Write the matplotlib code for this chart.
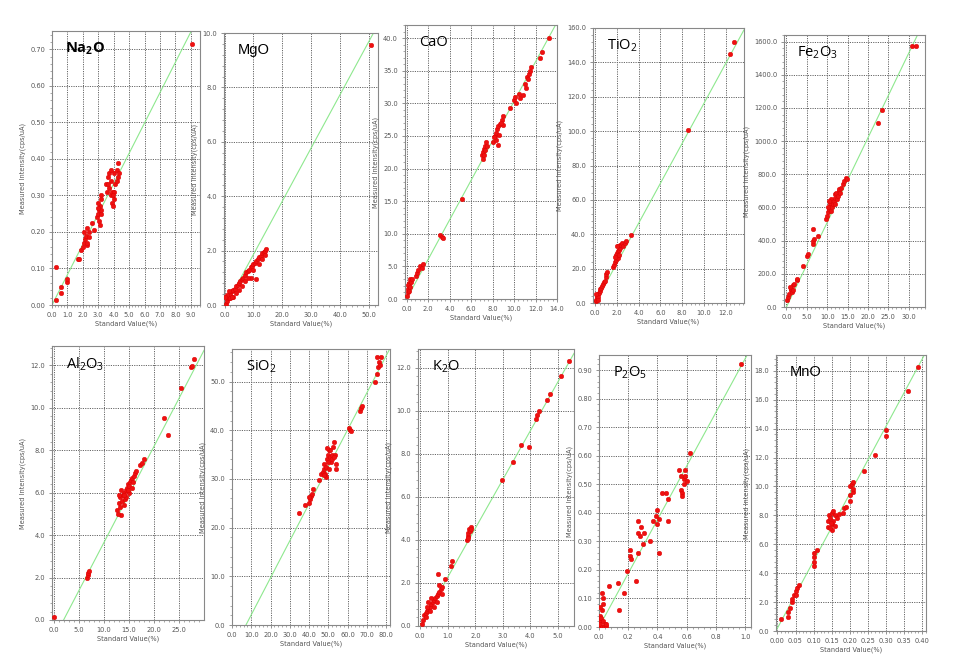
import matplotlib
matplotlib.use("Agg")
import matplotlib.pyplot as plt
from matplotlib.ticker import MultipleLocator, AutoMinorLocator, FormatStrFormatter

plt.rcParams['mathtext.default'] = 'regular'

# values (standard %, measured cps/uA)
na2o_x = [0.28, 0.25, 0.57, 0.6, 0.96, 1.0, 1.67, 1.75, 1.85, 2.0, 2.1, 2.15, 2.2, 2.3, 2.4, 2.25, 2.4, 2.05, 2.3,
          2.74, 2.6, 2.95, 3.0, 3.05, 3.1, 3.0, 3.15, 3.2, 3.05, 3.1, 3.2, 3.15, 3.0,
          3.5, 3.6, 3.7, 3.8, 3.9, 3.95, 4.0, 3.85, 4.0, 4.1, 4.2, 4.3, 4.25, 4.35, 3.7, 3.6, 3.9, 4.05,
          3.95, 4.2, 3.55, 3.8, 9.1]
na2o_y = [0.014, 0.105, 0.032, 0.05, 0.064, 0.07, 0.127, 0.125, 0.15, 0.16, 0.17, 0.18, 0.19, 0.21, 0.2, 0.165,
          0.185, 0.2, 0.17, 0.206, 0.225, 0.24, 0.25, 0.26, 0.27, 0.28, 0.29, 0.26, 0.23, 0.22, 0.3, 0.25, 0.265,
          0.33, 0.35, 0.32, 0.3, 0.28, 0.27, 0.29, 0.34, 0.36, 0.33, 0.37, 0.39, 0.35, 0.36, 0.36, 0.33, 0.31,
          0.31, 0.3, 0.34, 0.31, 0.37, 0.715]

mgo_x = [0.5, 0.8, 1, 1.5, 2, 2.5, 3, 3.5, 4, 4.5, 5, 5.5, 6, 6.5, 7, 7.5, 8, 8.5, 9, 9.5, 10, 10.5, 11, 11.5,
         12, 12.5, 13, 13.5, 14, 14.5, 11, 9, 6, 3, 1, 2, 12, 13, 14, 10, 8, 7, 5, 4, 0.3, 1.5, 2.5, 50.7]
mgo_y = [0.05, 0.15, 0.3, 0.25, 0.4, 0.5, 0.55, 0.6, 0.7, 0.75, 0.8, 0.9, 0.95, 1.0, 1.1, 1.2, 1.25, 1.3, 1.4,
         1.45, 1.5, 1.55, 1.6, 1.7, 1.75, 1.8, 1.9, 1.95, 2.0, 2.05, 0.95, 1.0, 0.7, 0.3, 0.35, 0.25, 1.5, 1.7,
         1.85, 1.3, 1.0, 0.9, 0.55, 0.45, 0.3, 0.5, 0.3, 9.57]

cao_x = [0.05, 0.1, 0.15, 0.2, 0.25, 0.3, 0.1, 0.35, 0.4, 0.5, 0.2, 0.9, 1.0, 1.1, 1.2, 1.4, 1.5, 3.1, 3.3, 3.4,
         5.15, 7.0, 7.1, 7.2, 7.3, 7.2, 7.4, 7.1, 7.3, 7.5, 8.0, 8.2, 8.3, 8.4, 8.5, 8.6, 8.3, 8.5, 8.1, 8.7, 8.9,
         9.0, 9.0, 8.8, 9.6, 10.0, 10.1, 10.2, 10.5, 10.6, 10.8, 11.0, 11.2, 11.4, 11.5, 11.6, 11.3, 11.1,
         12.4, 12.6, 13.3]
cao_y = [0.5, 1.0, 1.5, 2.0, 2.5, 3.0, 2.2, 1.8, 2.6, 3.0, 1.2, 3.5, 4.0, 4.5, 5.0, 4.8, 5.3, 9.8, 9.5, 9.3,
         15.3, 22, 22.5, 23, 23.5, 22, 24, 21.5, 22.8, 23.5, 24, 25, 25.5, 26, 26.5, 25.2, 24.3, 23.6, 24.8,
         26.8, 27.5, 28, 26.6, 27, 29.3, 30.5, 31, 30.0, 31.5, 30.8, 31.2, 33, 34, 34.5, 35, 35.5, 33.7, 32.4,
         37, 37.8, 40.0]

tio2_x = [0.05, 0.1, 0.15, 0.2, 0.3, 0.35, 0.4, 0.45, 0.5, 0.25, 0.1, 0.3, 0.6, 0.7, 0.8, 0.9, 1.0, 1.0, 1.1,
          1.6, 1.7, 1.8, 1.9, 2.0, 2.0, 2.1, 2.2, 2.3, 2.1, 1.9, 2.2, 2.3, 2.0, 2.4, 1.8, 2.5, 2.6, 2.7, 2.8,
          3.3, 8.5, 12.4, 12.8]
tio2_y = [1, 2, 3, 4, 5, 6, 7, 8, 9, 3.5, 5, 2, 10, 11, 12, 13, 15, 17, 18, 21, 22, 24, 25, 27, 29, 30, 31, 32,
          26, 28, 28, 34, 33, 34, 27, 35, 33, 35, 36, 39.3, 100.5, 145, 152]

fe2o3_x = [0.2, 0.5, 0.7, 1, 1.2, 1.5, 1.8, 0.8, 1.3, 1.6, 2.5, 2.7, 4, 5, 5.2, 6.5, 6.6, 6.8, 6.4, 7.8,
           9.8, 10, 10.2, 10.4, 10.6, 10.8, 11, 11.2, 11.4, 11.6, 11.8, 12, 12.2, 12.4, 12.6, 12.8, 13, 13.2,
           13.4, 10.5, 11, 12, 10.2, 14, 14.2, 14.5, 14.8, 22.5, 23.5, 30.8, 31.8]
fe2o3_y = [40, 60, 80, 100, 110, 130, 140, 120, 90, 100, 160, 170, 250, 310, 320, 380, 400, 410, 470, 430,
           530, 550, 570, 590, 610, 630, 650, 600, 620, 640, 660, 680, 690, 650, 670, 700, 710, 690, 720, 640,
           580, 620, 600, 740, 760, 780, 770, 1110, 1185, 1575, 1575]

al2o3_x = [0.1, 6.6, 6.8, 6.9, 7.0, 12.7, 13, 13.2, 13.4, 13.6, 13.8, 14, 14.2, 14.4, 14.6, 14.8, 15, 15.2,
           15.4, 15.6, 15.8, 16, 16.2, 13, 13.5, 14, 14.5, 15, 13.3, 14.1, 14.8, 12.9, 15.5, 16.4,
           17.2, 17.5, 18, 22, 22.7, 25.4, 27.3, 27.5, 28]
al2o3_y = [0.15, 2.0, 2.1, 2.2, 2.3, 5.2, 5.5, 5.8, 4.95, 5.6, 5.9, 6.0, 5.7, 6.1, 6.2, 6.4, 6.3, 6.5, 6.6,
           6.7, 6.5, 6.8, 6.9, 5.9, 6.1, 5.4, 5.8, 6.0, 5.3, 5.9, 6.1, 5.0, 6.2, 7.0, 7.3, 7.4, 7.6, 9.5, 8.7,
           10.9, 11.9, 11.95, 12.3]

sio2_x = [35, 38, 40, 40.5, 41, 41.5, 42, 40, 45, 46, 47, 47.5, 48, 48.5, 49, 49.5, 50, 50.5, 51, 51.5, 52,
          52.5, 53, 53.5, 54, 54, 50, 49, 48, 51, 52, 50.5, 53, 49.5, 60.5, 61, 61.5, 66.5, 67, 67.5,
          74, 75, 76, 76.5, 77, 75.5, 77.5]
sio2_y = [23, 24.7, 25, 25.8, 26.5, 27, 28, 26.2, 29.8, 31, 31.5, 32, 33, 31, 30.5, 34, 35, 36, 34.5, 33.5,
          35, 36.5, 37.5, 35, 33, 32, 33.5, 32.5, 30.8, 36, 34, 32, 34.5, 36.3, 40.5, 40, 39.8, 44, 44.5, 45,
          50, 51.5, 53, 54, 53.5, 55, 55]

k2o_x = [0.05, 0.1, 0.15, 0.2, 0.25, 0.3, 0.35, 0.4, 0.45, 0.5, 0.55, 0.6, 0.65, 0.7, 0.75, 0.8, 0.25, 0.3,
         0.4, 0.5, 0.6, 0.7, 0.2, 0.65, 0.8, 0.35, 0.9, 1.1, 1.15, 1.7, 1.72, 1.75, 1.78, 1.8, 1.83, 1.85,
         1.75, 2.95, 3.35, 3.65, 3.95, 4.2, 4.25, 4.3, 4.6, 4.7, 5.1, 5.4]
k2o_y = [0.1, 0.3, 0.5, 0.6, 0.7, 0.8, 0.9, 1.0, 1.1, 1.2, 1.3, 1.4, 1.5, 1.6, 1.7, 1.8, 0.9, 1.1, 1.3, 0.9,
         1.1, 1.9, 0.4, 2.4, 1.5, 0.7, 2.2, 2.8, 3.0, 4.0, 4.2, 4.3, 4.5, 4.4, 4.6, 4.5, 4.1, 6.8, 7.6, 8.4,
         8.3, 9.6, 9.8, 10.0, 10.5, 10.8, 11.6, 12.3]

p2o5_x = [0.0, 0.005, 0.01, 0.01, 0.015, 0.02, 0.02, 0.025, 0.03, 0.03, 0.035, 0.04, 0.045, 0.05, 0.02, 0.01,
          0.07, 0.13, 0.14, 0.17, 0.19, 0.21, 0.215, 0.22, 0.25, 0.27, 0.27, 0.28, 0.27, 0.29, 0.3, 0.31,
          0.35, 0.37, 0.39, 0.4, 0.4, 0.41, 0.41, 0.43, 0.46, 0.47, 0.47, 0.55, 0.56, 0.56, 0.57, 0.58,
          0.58, 0.59, 0.6, 0.59, 0.57, 0.62, 0.97]
p2o5_y = [0.0, 0.02, 0.04, 0.01, 0.03, 0.0, 0.06, 0.1, 0.08, 0.02, 0.0, 0.01, 0.005, 0.01, 0.12, 0.07,
          0.145, 0.155, 0.06, 0.12, 0.195, 0.27, 0.25, 0.24, 0.16, 0.37, 0.33, 0.32, 0.26, 0.35, 0.29, 0.33,
          0.3, 0.37, 0.39, 0.36, 0.41, 0.38, 0.26, 0.47, 0.47, 0.45, 0.37, 0.55, 0.53, 0.48, 0.47, 0.5, 0.52,
          0.55, 0.51, 0.53, 0.46, 0.61, 0.92]

mno_x = [0.01, 0.03, 0.03, 0.035, 0.04, 0.04, 0.045, 0.05, 0.05, 0.055, 0.06, 0.1, 0.1, 0.1, 0.1, 0.11,
         0.14, 0.14, 0.142, 0.145, 0.15, 0.15, 0.152, 0.155, 0.16, 0.16, 0.165, 0.17, 0.145, 0.155, 0.148,
         0.18, 0.185, 0.19, 0.2, 0.2, 0.2, 0.205, 0.21, 0.21, 0.21, 0.24, 0.27, 0.3, 0.3, 0.36, 0.39]
mno_y = [0.8, 1.0, 1.3, 1.6, 2.0, 2.2, 2.5, 2.5, 2.8, 3.0, 3.2, 4.5, 4.8, 5.1, 5.4, 5.6, 7.2, 7.6, 8.0, 7.8,
         7.4, 8.2, 7.0, 7.6, 8.0, 7.3, 7.8, 8.1, 7.1, 8.3, 7.5, 8.2, 8.5, 8.6, 9.0, 9.4, 10.0, 10.2, 9.6, 9.8,
         10.3, 11.1, 12.2, 13.5, 13.9, 16.6, 18.3]

names = ['Na$_2$O', 'MgO', 'CaO', 'TiO$_2$', 'Fe$_2$O$_3$',
         'Al$_2$O$_3$', 'SiO$_2$', 'K$_2$O', 'P$_2$O$_5$', 'MnO']
xs = [na2o_x, mgo_x, cao_x, tio2_x, fe2o3_x, al2o3_x, sio2_x, k2o_x, p2o5_x, mno_x]
ys = [na2o_y, mgo_y, cao_y, tio2_y, fe2o3_y, al2o3_y, sio2_y, k2o_y, p2o5_y, mno_y]
# calibration line of each panel
fit_slope = [0.083, 0.196, 3.03, 11.6, 51.0, 0.455, 0.76, 2.27, 0.94, 46.5]
fit_icpt = [0.0, -0.1, 0.0, 0.0, 0.0, -0.91, -5.5, 0.0, 0.0, 0.2]

# panel boxes in pixels: left, top, right, bottom
boxes = [(52, 31, 200, 305), (224, 33, 378, 305), (405, 25, 557, 299), (593, 28, 744, 303),
         (784, 35, 925, 307), (52, 346, 204, 620), (232, 349, 390, 625), (418, 349, 574, 626),
         (599, 355, 751, 627), (776, 355, 926, 631)]
xlims = [(0, 9.6), (-0.2, 53.1), (-0.15, 14.0), (-0.2, 13.7), (-0.6, 34), (-0.3, 29.9), (0, 82),
         (-0.08, 5.58), (0, 1.04), (-0.004, 0.411)]
ylims = [(0, 0.75), (0, 10), (0, 42), (0, 160), (0, 1640), (0, 12.9), (0, 56.7), (0, 12.87), (0, 0.953),
         (0, 19.1)]
xsteps = [1.0, 10, 2, 2, 5, 5, 10, 1, 0.2, 0.05]
ysteps = [0.1, 2, 5, 20, 200, 2, 10, 2, 0.1, 2]
xfmts = ['%.1f'] * 9 + ['%.2f']
yfmts = ['%.2f', '%.1f', '%.1f', '%.1f', '%.1f', '%.1f', '%.1f', '%.1f', '%.2f', '%.1f']
fonts = ['Open Sans', 'Liberation Sans', 'Open Sans', 'Open Sans', 'Open Sans',
         'Open Sans', 'Open Sans', 'Open Sans', 'Open Sans', 'Liberation Sans']

W, H = 964, 671
fig = plt.figure(figsize=(W / 100, H / 100), dpi=100)

for i in range(10):
    l, t, r, b = boxes[i]
    ax = fig.add_axes([l / W, 1 - b / H, (r - l) / W, (b - t) / H])
    ax.set_xlim(*xlims[i])
    ax.set_ylim(*ylims[i])
    ax.axline((0, fit_icpt[i]), slope=fit_slope[i], color='#8ee88e', lw=0.8, zorder=2)
    ax.plot(xs[i], ys[i], 'o', color='#ee1111', ms=3.3, mec='#dd0000', mew=0.3, zorder=3)

    ax.xaxis.set_major_locator(MultipleLocator(xsteps[i]))
    ax.yaxis.set_major_locator(MultipleLocator(ysteps[i]))
    ax.xaxis.set_minor_locator(AutoMinorLocator(5))
    ax.yaxis.set_minor_locator(AutoMinorLocator(5))
    ax.xaxis.set_major_formatter(FormatStrFormatter(xfmts[i]))
    ax.yaxis.set_major_formatter(FormatStrFormatter(yfmts[i]))
    ax.tick_params(labelsize=4.8, labelcolor='#555555', length=2.5, width=0.5, color='#666666', pad=2.5)
    ax.tick_params(which='minor', length=1.5, width=0.4, color='#666666')
    ax.grid(True, which='major', ls=(0, (1.2, 1.2)), lw=0.7, color='#666666')
    for sp in ax.spines.values():
        sp.set_color('#888888')
        sp.set_linewidth(0.8)

    ax.set_xlabel('Standard Value(%)', fontsize=4.8, color='#555555', labelpad=2)
    ax.set_ylabel('Measured Intensity(cps/uA)', fontsize=4.8, color='#555555', labelpad=3)
    ax.text(0.09, 0.965, names[i], transform=ax.transAxes, ha='left', va='top',
            fontsize=10.5, family=fonts[i], fontweight='bold' if i == 0 else 'normal', color='black')

fig.savefig('out.png', dpi=100)
